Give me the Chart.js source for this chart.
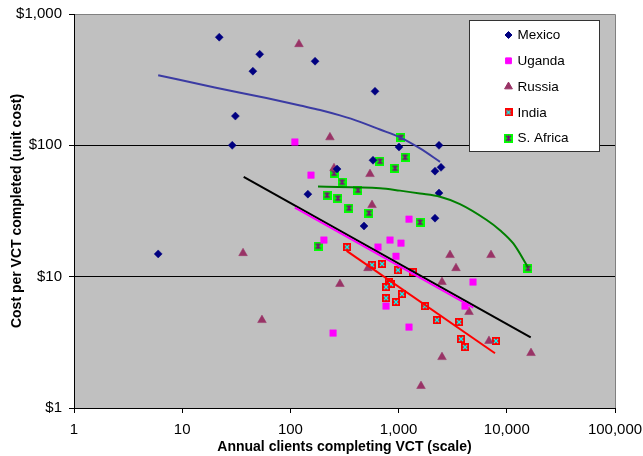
<!DOCTYPE html>
<html>
<head>
<meta charset="utf-8">
<script src="https://cdn.jsdelivr.net/npm/chart.js@4.4.1/dist/chart.umd.min.js"></script>
<style>
  html, body { margin: 0; padding: 0; background: #fff; }
  #chart { display: block; }
</style>
</head>
<body>
<canvas id="chart" width="643" height="456"></canvas>
<script>
// Axis ticks (decades only, like the original log-log plot)
const xTickValues = [1, 10, 100, 1000, 10000, 100000];
const xTickLabels = ['1', '10', '100', '1,000', '10,000', '100,000'];
const yTickValues = [1, 10, 100, 1000];
const yTickLabels = ['$1', '$10', '$100', '$1,000'];

const seriesNames = ['Mexico', 'Uganda', 'Russia', 'India', 'S. Africa'];

// Sites: annual clients completing VCT vs cost per client
const mexicoClients = [6, 22, 29, 31, 45, 52, 169, 605, 145, 270, 479, 580, 1009, 2170, 2466, 2362, 2362, 2170];
const mexicoCost = [14.9, 666, 100, 167, 367, 494, 437, 258, 42.5, 66, 24.3, 77, 97, 63.6, 68, 100, 43.3, 27.9];

const ugandaClients = [110, 155, 1248, 204, 645, 833, 1052, 946, 765, 1248, 248, 4872, 4109];
const ugandaCost = [106, 59.3, 27.4, 19.0, 16.8, 19.0, 18.0, 14.3, 5.97, 4.13, 3.72, 9.1, 5.97];

const russiaClients = [36.5, 54.6, 120, 232, 253, 544, 568, 287, 521, 2518, 2987, 3392, 7145, 4475, 6844, 2518, 16740, 1611];
const russiaCost = [15.1, 4.67, 589, 115, 67, 60.4, 35.1, 8.79, 11.6, 9.1, 14.6, 11.6, 14.6, 5.38, 3.24, 2.44, 2.62, 1.47];

const indiaClients = [334, 568, 703, 987, 1359, 815, 851, 765, 765, 946, 1075, 1754, 2264, 3616, 3776, 4109, 7943];
const indiaCost = [16.8, 12.3, 12.5, 11.2, 10.8, 9.1, 8.79, 8.33, 6.87, 6.41, 7.37, 5.97, 4.67, 4.51, 3.35, 2.91, 3.24];

const safricaClients = [180, 218, 253, 275, 300, 348, 421, 532, 673, 926, 1052, 1146, 1577, 15700];
const safricaCost = [17.1, 41.8, 61.4, 39.6, 52.5, 33.3, 45.6, 30.5, 75.8, 67.0, 115, 81.3, 26.0, 11.6];

// Trend lines
const mexicoTrendX = [6, 20, 60, 123, 188, 287, 440, 673, 1030, 1577, 2414];
const mexicoTrendY = [342, 276, 229, 201, 186, 169, 151, 132, 115, 94.7, 74.9];
const safricaTrendX = [180, 673, 1030, 1577, 2414, 3692, 6520, 8650, 11480, 15700];
const safricaTrendY = [48.5, 47.2, 45.2, 43.0, 40.6, 35.7, 27.0, 22.6, 17.9, 11.8];
const allTrendX = [37, 16630];
const allTrendY = [57.6, 3.45];
const ugandaTrendX = [110, 4900];
const ugandaTrendY = [33.6, 5.82];
const indiaTrendX = [331, 7780];
const indiaTrendY = [15.7, 2.61];

const FONT = "'Liberation Sans', Arial, sans-serif";

function pts(xs, ys) {
  return xs.map((x, i) => ({ x: x, y: ys[i] }));
}

// composite Excel-like markers
function indiaMarker() {
  const c = document.createElement('canvas');
  c.width = 8; c.height = 8;
  const g = c.getContext('2d');
  g.fillStyle = '#ff0000';
  g.fillRect(0, 0, 8, 8);
  g.strokeStyle = '#00ffff';
  g.lineWidth = 1.3;
  g.beginPath();
  g.moveTo(2, 2); g.lineTo(6, 6);
  g.moveTo(6, 2); g.lineTo(2, 6);
  g.stroke();
  return c;
}

function safricaMarker() {
  const c = document.createElement('canvas');
  c.width = 9; c.height = 9;
  const g = c.getContext('2d');
  g.fillStyle = '#00ff00';
  g.fillRect(0, 0, 9, 9);
  g.strokeStyle = '#800080';
  g.lineWidth = 1.3;
  g.beginPath();
  g.moveTo(2, 2); g.lineTo(7, 7);
  g.moveTo(7, 2); g.lineTo(2, 7);
  g.moveTo(4.5, 1.5); g.lineTo(4.5, 7.5);
  g.stroke();
  return c;
}

const indiaImg = indiaMarker();
const safricaImg = safricaMarker();

function trend(label, xs, ys, color, tension) {
  return {
    label: label,
    data: pts(xs, ys),
    showLine: true,
    borderColor: color,
    borderWidth: 2,
    pointRadius: 0,
    fill: false,
    tension: tension || 0,
    cubicInterpolationMode: tension ? 'monotone' : 'default',
    isTrend: true,
  };
}

const datasets = [
  trend('Mexico trend', mexicoTrendX, mexicoTrendY, '#3b3ba3', 0.4),
  trend('S. Africa trend', safricaTrendX, safricaTrendY, '#008000', 0.4),
  trend('Uganda trend', ugandaTrendX, ugandaTrendY, '#ff00ff'),
  trend('All trend', allTrendX, allTrendY, '#000000'),
  trend('India trend', indiaTrendX, indiaTrendY, '#ff0000'),
  {
    label: seriesNames[0],
    data: pts(mexicoClients, mexicoCost),
    pointStyle: 'rectRot',
    pointRadius: 4,
    backgroundColor: '#000080',
    borderColor: '#000080',
    borderWidth: 0.5,
  },
  {
    label: seriesNames[1],
    data: pts(ugandaClients, ugandaCost),
    pointStyle: 'rect',
    pointRadius: 4.6,
    backgroundColor: '#ff00ff',
    borderColor: '#ff00ff',
    borderWidth: 0.5,
  },
  {
    label: seriesNames[2],
    data: pts(russiaClients, russiaCost),
    pointStyle: 'triangle',
    pointRadius: 5,
    backgroundColor: '#993366',
    borderColor: '#993366',
    borderWidth: 0.5,
  },
  {
    label: seriesNames[3],
    data: pts(indiaClients, indiaCost),
    pointStyle: indiaImg,
    pointRadius: 4,
    backgroundColor: '#ff0000',
    borderColor: '#ff0000',
  },
  {
    label: seriesNames[4],
    data: pts(safricaClients, safricaCost),
    pointStyle: safricaImg,
    pointRadius: 4.5,
    backgroundColor: '#00ff00',
    borderColor: '#00ff00',
  },
];

// gray plot area with a thin gray frame
const plotBackground = {
  id: 'plotBackground',
  beforeDraw(chart) {
    const { ctx, chartArea: a } = chart;
    ctx.save();
    ctx.fillStyle = '#c0c0c0';
    ctx.fillRect(a.left, a.top, a.right - a.left, a.bottom - a.top);
    ctx.strokeStyle = '#808080';
    ctx.lineWidth = 1;
    ctx.beginPath();
    ctx.moveTo(a.left, Math.round(a.top) + 0.5);
    ctx.lineTo(Math.round(a.right) + 0.5, Math.round(a.top) + 0.5);
    ctx.lineTo(Math.round(a.right) + 0.5, a.bottom);
    ctx.stroke();
    ctx.restore();
  },
};

// boxed legend inside the plot, top right
const boxLegend = {
  id: 'boxLegend',
  afterDraw(chart) {
    const ctx = chart.ctx;
    const left = 469.5, top = 20.5, w = 130, h = 131;
    ctx.save();
    ctx.fillStyle = '#ffffff';
    ctx.fillRect(left, top, w, h);
    ctx.strokeStyle = '#333333';
    ctx.lineWidth = 1;
    ctx.strokeRect(left, top, w, h);
    ctx.font = '13.5px ' + FONT;
    ctx.textBaseline = 'middle';
    ctx.textAlign = 'left';
    const markers = chart.data.datasets.filter((d) => !d.isTrend);
    markers.forEach((d, i) => {
      const y = 35 + i * 25.8;
      ctx.fillStyle = d.backgroundColor;
      ctx.strokeStyle = d.borderColor;
      Chart.helpers.drawPoint(ctx, {
        pointStyle: d.pointStyle,
        rotation: 0,
        radius: typeof d.pointStyle === 'string' ? d.pointRadius - 0.5 : d.pointRadius,
        borderWidth: d.borderWidth || 0,
      }, 508.5, y);
      ctx.fillStyle = '#000000';
      ctx.fillText(d.label, 517.5, y + 0.5);
    });
    ctx.restore();
  },
};

new Chart(document.getElementById('chart'), {
  type: 'scatter',
  data: { datasets: datasets },
  options: {
    responsive: false,
    animation: false,
    devicePixelRatio: 1,
    layout: { padding: { left: 0, top: 14, right: 28, bottom: 0 } },
    plugins: {
      legend: { display: false },
      tooltip: { enabled: false },
    },
    scales: {
      x: {
        type: 'logarithmic',
        min: 1,
        max: 100000,
        afterBuildTicks: (s) => { s.ticks = xTickValues.map((v) => ({ value: v })); },
        afterFit: (s) => { s.height = 48; s.paddingLeft = 0; s.paddingRight = 0; },
        ticks: {
          autoSkip: false,
          maxRotation: 0,
          padding: 8,
          color: '#000',
          font: { family: FONT, size: 15 },
          callback: (v, i) => xTickLabels[i],
        },
        grid: { drawOnChartArea: false, drawTicks: true, tickLength: 5, color: '#000' },
        border: { display: true, color: '#000', width: 1 },
        title: {
          display: true,
          text: 'Annual clients completing VCT (scale)',
          color: '#000',
          font: { family: FONT, size: 14, weight: 'bold' },
          padding: { top: 0, bottom: 0 },
        },
      },
      y: {
        type: 'logarithmic',
        min: 1,
        max: 1000,
        afterBuildTicks: (s) => { s.ticks = yTickValues.map((v) => ({ value: v })); },
        afterFit: (s) => { s.width = 74; s.paddingTop = 0; s.paddingBottom = 0; },
        ticks: {
          autoSkip: false,
          padding: 7,
          color: '#000',
          font: { family: FONT, size: 15 },
          callback: (v, i) => yTickLabels[i],
        },
        grid: {
          drawTicks: true,
          tickLength: 5,
          tickColor: '#000',
          color: (c) => (c.tick && c.tick.value === 1000 ? '#808080' : '#000'),
        },
        border: { display: true, color: '#000', width: 1 },
        title: {
          display: true,
          text: 'Cost per VCT completed (unit cost)',
          color: '#000',
          font: { family: FONT, size: 14, weight: 'bold' },
          padding: { top: 9, bottom: 0 },
        },
      },
    },
  },
  plugins: [plotBackground, boxLegend],
});
</script>
</body>
</html>
